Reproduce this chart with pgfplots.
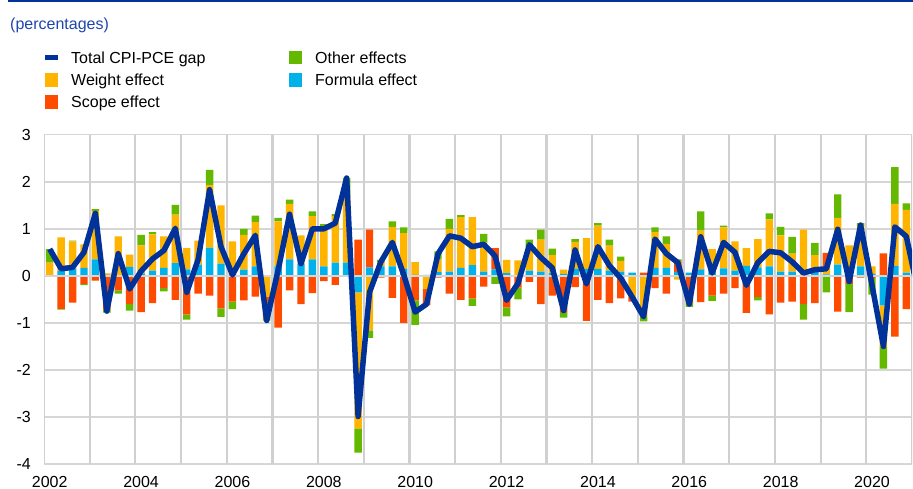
\documentclass[border=0pt]{standalone}
\usepackage{pgfplots}
\usepackage{pgfplotstable}
\pgfplotsset{compat=1.18}
\usepackage{fontspec}
\setmainfont{Liberation Sans}
\definecolor{cT}{RGB}{0,50,153}
\definecolor{cW}{RGB}{255,180,0}
\definecolor{cS}{RGB}{255,75,0}
\definecolor{cO}{RGB}{101,184,0}
\definecolor{cF}{RGB}{0,177,234}
\definecolor{cTitle}{RGB}{30,70,170}
\definecolor{gridc}{RGB}{214,214,214}
\definecolor{vgridc}{RGB}{208,208,208}
% i: quarter index from 2002Q1; f formula, w weight, s scope, o other, t total gap
\pgfplotstableread{
i f w s o t
0 0.00 0.28 0.00 0.29 0.57
1 0.10 0.72 -0.70 -0.02 0.15
2 0.15 0.58 -0.57 0.02 0.18
3 0.17 0.50 -0.17 -0.03 0.50
4 0.35 1.03 -0.10 0.04 1.33
5 0.02 0.03 -0.70 -0.08 -0.75
6 0.00 0.84 -0.31 -0.07 0.47
7 0.19 0.26 -0.60 -0.14 -0.28
8 0.05 0.60 -0.77 0.22 0.10
9 0.11 0.77 -0.58 0.05 0.36
10 0.17 0.67 -0.26 -0.07 0.54
11 0.27 1.03 -0.51 0.21 1.01
12 0.14 0.45 -0.82 -0.11 -0.35
13 0.24 0.51 -0.38 0.00 0.35
14 0.60 1.33 -0.42 0.32 1.83
15 0.26 1.24 -0.69 -0.18 0.62
16 0.00 0.73 -0.55 -0.16 0.02
17 0.13 0.74 -0.52 0.13 0.47
18 0.20 0.94 -0.44 0.14 0.86
19 0.00 -0.44 -0.45 -0.06 -0.95
20 0.20 0.96 -1.10 0.07 0.12
21 0.35 1.18 -0.31 0.09 1.31
22 0.26 0.60 -0.60 0.00 0.26
23 0.35 0.92 -0.37 0.10 1.00
24 0.20 0.86 -0.11 0.04 1.00
25 0.28 0.99 -0.19 0.04 1.12
26 0.28 1.42 0.00 0.38 2.08
27 -0.35 -2.89 0.77 -0.52 -2.99
28 0.18 -1.16 0.80 -0.16 -0.35
29 0.20 0.08 -0.04 0.06 0.30
30 0.20 0.84 -0.47 0.12 0.71
31 0.15 0.76 -1.00 0.12 0.02
32 0.02 0.27 -0.52 -0.52 -0.77
33 0.02 -0.28 -0.35 0.00 -0.60
34 0.08 0.28 -0.04 0.16 0.47
35 0.09 0.91 -0.38 0.21 0.85
36 0.17 1.08 -0.51 0.04 0.80
37 0.23 1.02 -0.48 -0.16 0.62
38 0.09 0.62 -0.23 0.18 0.67
39 0.14 0.00 0.45 -0.17 0.42
40 0.06 0.28 -0.67 -0.19 -0.52
41 0.00 0.33 -0.25 -0.25 -0.16
42 0.11 0.50 -0.13 0.16 0.66
43 0.09 0.68 -0.60 0.21 0.39
44 0.06 0.38 -0.42 0.14 0.17
45 0.04 0.09 -0.77 -0.12 -0.74
46 0.15 0.57 -0.24 0.06 0.55
47 0.15 0.65 -0.96 0.00 -0.17
48 0.15 0.92 -0.51 0.05 0.62
49 0.11 0.53 -0.58 0.13 0.22
50 0.09 0.23 -0.48 0.09 -0.05
51 0.07 -0.45 -0.10 0.00 -0.45
52 0.00 -0.88 0.07 -0.09 -0.87
53 0.17 0.76 -0.26 0.10 0.78
54 0.17 0.51 -0.38 0.16 0.47
55 0.08 -0.08 0.23 0.04 0.28
56 0.07 0.00 -0.56 -0.10 -0.60
57 0.14 0.82 -0.56 0.41 0.83
58 0.11 0.46 -0.42 -0.11 0.06
59 0.16 0.87 -0.38 0.04 0.71
60 0.11 0.62 -0.26 0.00 0.50
61 0.21 0.38 -0.79 0.00 -0.20
62 0.18 0.60 -0.45 -0.07 0.28
63 0.20 1.00 -0.82 0.13 0.52
64 0.09 0.77 -0.57 0.18 0.49
65 0.09 0.38 -0.55 0.36 0.30
66 0.00 0.98 -0.60 -0.33 0.06
67 0.08 0.36 -0.58 0.26 0.13
68 0.03 0.18 0.28 -0.35 0.15
69 0.24 0.99 -0.76 0.50 0.99
70 0.00 0.65 -0.17 -0.60 -0.12
71 0.20 0.86 -0.04 0.06 1.08
72 0.04 0.16 -0.05 -0.35 -0.20
73 -0.63 -0.88 0.48 -0.46 -1.50
74 0.21 1.32 -1.29 0.78 1.04
75 0.07 1.33 -0.71 0.14 0.84
76 0.00 0.00 0.00 0.00 -0.30
}\data
\pgfplotsset{
  base/.style={
    at={(44bp,-464bp)}, anchor=south west,
    width=868bp, height=329.3bp, scale only axis,
    xmin=-0.5, xmax=75.5, ymin=-4, ymax=3,
  },
}
\begin{document}
\begin{tikzpicture}[font=\fontsize{16bp}{19bp}\selectfont]
\useasboundingbox (0,0) rectangle (913bp,-489bp);
% header
\draw[cT, line width=1.5bp] (8bp,-0.75bp) -- (913bp,-0.75bp);
\node[anchor=base west, inner sep=0pt, text=cTitle] at (10bp,-29.5bp) {(percentages)};
% legend
\draw[cT, line width=5bp] (45bp,-57bp) -- (58bp,-57bp);
\node[anchor=base west, inner sep=0pt] at (71bp,-63.5bp) {Total CPI-PCE gap};
\fill[cW] (44.5bp,-73bp) rectangle (58bp,-86.5bp);
\node[anchor=base west, inner sep=0pt] at (71bp,-85.8bp) {Weight effect};
\fill[cS] (44.5bp,-95bp) rectangle (58bp,-108.5bp);
\node[anchor=base west, inner sep=0pt] at (71bp,-107.8bp) {Scope effect};
\fill[cO] (288.5bp,-50.5bp) rectangle (302bp,-64bp);
\node[anchor=base west, inner sep=0pt] at (315bp,-63.5bp) {Other effects};
\fill[cF] (288.5bp,-73bp) rectangle (302bp,-86.5bp);
\node[anchor=base west, inner sep=0pt] at (315bp,-85.8bp) {Formula effect};
% positive parts
\begin{axis}[base,
  ybar stacked, bar width=0.65,
  axis line style={draw=none}, tick style={draw=none},
  major tick length=0pt,
  xtick={0,8,16,24,32,40,48,56,64,72},
  xticklabels={2002,2004,2006,2008,2010,2012,2014,2016,2018,2020},
  ymajorgrids,
  major grid style={gridc, line width=1.5bp},
  ytick={-4,-3,-2,-1,0,1,2,3},
  yticklabels={-4,-3,-2,-1,0,1,2,3},
  ticklabel style={font=\fontsize{16bp}{19bp}\selectfont},
  yticklabel style={inner sep=0pt, xshift=-13bp},
  xticklabel style={inner sep=0pt, yshift=-12bp},
]
\pgfplotsinvokeforeach{-0.5,3.5,7.5,11.5,15.5,19.5,23.5,27.5,31.5,35.5,39.5,43.5,47.5,51.5,55.5,59.5,63.5,67.5,71.5,75.5}{
  \draw[vgridc, line width=2.2bp] (axis cs:#1,-4) -- (axis cs:#1,3);
}
\addplot[fill=cF, draw=none] table[x=i, y expr={max(\thisrow{f},0)}] {\data};
\addplot[fill=cW, draw=none] table[x=i, y expr={max(\thisrow{w},0)}] {\data};
\addplot[fill=cS, draw=none] table[x=i, y expr={max(\thisrow{s},0)}] {\data};
\addplot[fill=cO, draw=none] table[x=i, y expr={max(\thisrow{o},0)}] {\data};
\end{axis}
% negative parts
\begin{axis}[base, hide axis, ybar stacked, bar width=0.65]
\addplot[fill=cF, draw=none] table[x=i, y expr={min(\thisrow{f},0)}] {\data};
\addplot[fill=cW, draw=none] table[x=i, y expr={min(\thisrow{w},0)}] {\data};
\addplot[fill=cS, draw=none] table[x=i, y expr={min(\thisrow{s},0)}] {\data};
\addplot[fill=cO, draw=none] table[x=i, y expr={min(\thisrow{o},0)}] {\data};
\end{axis}
% total line
\begin{axis}[base, hide axis]
\draw[gridc, line width=1.5bp] (axis cs:-0.5,0) -- (axis cs:75.5,0);
\addplot[cT, line width=5.5bp, line join=round, mark=none] table[x=i, y=t] {\data};
\end{axis}
\end{tikzpicture}
\end{document}
